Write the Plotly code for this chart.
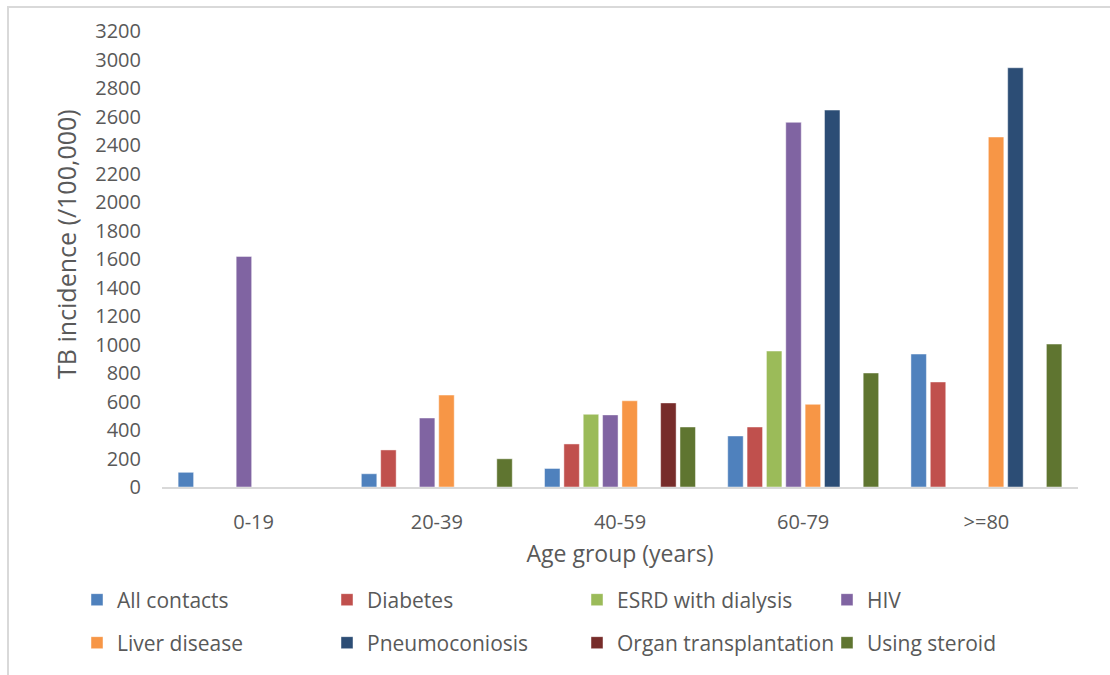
import plotly.graph_objects as go

categories = ["0-19", "20-39", "40-59", "60-79", ">=80"]
series_names = ["All contacts", "Diabetes", "ESRD with dialysis", "HIV",
                "Liver disease", "Pneumoconiosis", "Organ transplantation", "Using steroid"]
all_contacts = [103, 93, 130, 358, 933]
diabetes = [None, 260, 302, 421, 737]
esrd = [None, None, 510, 954, None]
hiv = [1618, 484, 506, 2559, None]
liver = [None, 645, 605, 580, 2456]
pneumo = [None, None, None, 2645, 2942]
organ = [None, None, 590, None, None]
steroid = [None, 198, 421, 800, 1003]
series_values = [all_contacts, diabetes, esrd, hiv, liver, pneumo, organ, steroid]
colors = ["#4F81BD", "#C0504D", "#9BBB59", "#8064A2",
          "#F79646", "#2C4D75", "#772C2A", "#5F7530"]

W, H = 1110, 675
ML, MR, MT, MB = 162, 32, 31, 188
PW, PH = W - ML - MR, H - MT - MB
TXT = "#595959"
FONT = "Open Sans"

def px_x(px):
    return (px - ML) / PW

def px_y(py):
    return (H - MB - py) / PH

fig = go.Figure()
for i, (name, vals, col) in enumerate(zip(series_names, series_values, colors)):
    fig.add_trace(go.Bar(
        x=categories, y=vals, name=name,
        marker=dict(color=col, line=dict(color="rgba(255,255,255,0.45)", width=1)),
        legend="legend" if i < 4 else "legend2",
    ))

legend_common = dict(
    orientation="h", xanchor="left", yanchor="middle",
    font=dict(family=FONT, size=21, color=TXT),
    entrywidth=205, entrywidthmode="pixels",
    itemwidth=30, bgcolor="rgba(0,0,0,0)", traceorder="normal",
)

fig.update_layout(
    width=W, height=H,
    margin=dict(l=ML, r=MR, t=MT, b=MB, autoexpand=False),
    paper_bgcolor="white", plot_bgcolor="white",
    barmode="group", bargap=0.155, bargroupgap=0.2,
    font=dict(family=FONT, size=20, color=TXT),
    xaxis=dict(
        showline=True, linecolor="#d9d9d9", linewidth=2,
        ticks="", showgrid=False, zeroline=False,
        tickfont=dict(family=FONT, size=20, color=TXT),
        ticklabelstandoff=16,
        title=dict(text="Age group (years)", font=dict(family=FONT, size=23, color=TXT), standoff=12),
    ),
    yaxis=dict(
        range=[0, 3200], dtick=200, tick0=0,
        showline=False, showgrid=False, zeroline=False, ticks="",
        tickfont=dict(family=FONT, size=20, color=TXT),
        ticklabelstandoff=20,
    ),
    legend=dict(x=px_x(77), y=px_y(600), **legend_common),
    legend2=dict(x=px_x(77), y=px_y(643), **legend_common),
    showlegend=True,
    annotations=[dict(
        text="TB incidence (/100,000)", textangle=-90,
        xref="paper", yref="paper", x=px_x(66), y=px_y(244),
        xanchor="center", yanchor="middle", showarrow=False,
        font=dict(family=FONT, size=25, color=TXT),
    )],
    shapes=[dict(
        type="rect", xref="paper", yref="paper",
        x0=px_x(8), x1=px_x(1130), y0=px_y(700), y1=px_y(7),
        line=dict(color="#d9d9d9", width=2), fillcolor="rgba(0,0,0,0)", layer="below",
    )],
)

fig.write_html("out.html")
